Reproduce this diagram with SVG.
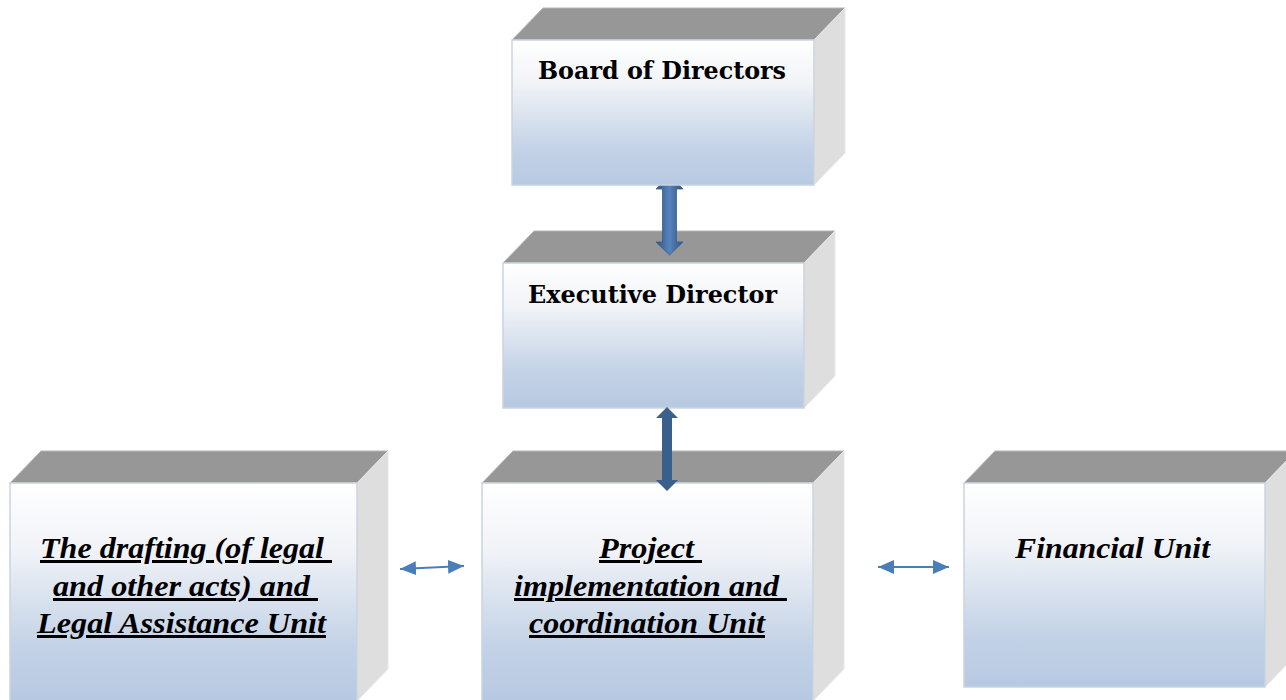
<svg xmlns="http://www.w3.org/2000/svg" width="1286" height="700" viewBox="0 0 1286 700">
  <defs>
    <linearGradient id="frontFill" x1="0" y1="0" x2="0" y2="1">
      <stop offset="0" stop-color="#ffffff"/>
      <stop offset="0.3" stop-color="#f1f3f7"/>
      <stop offset="0.75" stop-color="#c3d2e6"/>
      <stop offset="1" stop-color="#b7c9e2"/>
    </linearGradient>
    <linearGradient id="shaftFill" x1="0" y1="0" x2="1" y2="0">
      <stop offset="0" stop-color="#33557f"/>
      <stop offset="0.5" stop-color="#5583bd"/>
      <stop offset="1" stop-color="#33557f"/>
    </linearGradient>
    <marker id="thinHead" markerUnits="userSpaceOnUse" markerWidth="16" markerHeight="14" refX="16" refY="7" orient="auto-start-reverse">
      <path d="M0,0 L16,7 L0,14 z" fill="#4a7ebb"/>
    </marker>
    <style>
      .top { fill: #979797; stroke: #b5b5b5; stroke-width: 1; }
      .side { fill: #dedede; stroke: #e8e8e8; stroke-width: 1; }
      .front { fill: url(#frontFill); stroke: #c9d3e1; stroke-width: 1.5; }
      .head { font-family: "DejaVu Serif", "Liberation Serif", serif; font-weight: bold; font-size: 24px; fill: #000; }
      .unit { font-family: "Liberation Serif", "Times New Roman", serif; font-weight: bold; font-style: italic; font-size: 30px; fill: #000; white-space: pre; }
      .ul { text-decoration: underline; }
      .thin { stroke: #4a7ebb; stroke-width: 2; fill: none; }
    </style>
  </defs>

  <!-- Executive Director -->
  <g id="executive-director">
    <polygon class="top" points="503,263 534,231 835,231 804,263"/>
    <polygon class="side" points="804,263 835,231 835,376 804,408"/>
    <rect class="front" x="503" y="263" width="301" height="145"/>
    <text class="head" x="528" y="303" textLength="249" lengthAdjust="spacingAndGlyphs">Executive Director</text>
  </g>

  <!-- Drafting and Legal Assistance Unit -->
  <g id="legal-unit">
    <polygon class="top" points="10,483 41,451 388,451 357,483"/>
    <polygon class="side" points="357,483 388,451 388,669 357,701"/>
    <rect class="front" x="10" y="483" width="347" height="218"/>
    <text class="unit ul" x="40" y="558" textLength="292" lengthAdjust="spacingAndGlyphs">The drafting (of legal </text>
    <text class="unit ul" x="53" y="596" textLength="265" lengthAdjust="spacingAndGlyphs">and other acts) and </text>
    <text class="unit ul" x="37" y="633" textLength="289" lengthAdjust="spacingAndGlyphs">Legal Assistance Unit</text>
  </g>

  <!-- Project implementation and coordination Unit -->
  <g id="project-unit">
    <polygon class="top" points="482,483 513,451 844,451 813,483"/>
    <polygon class="side" points="813,483 844,451 844,669 813,701"/>
    <rect class="front" x="482" y="483" width="331" height="218"/>
    <text class="unit ul" x="599" y="558" textLength="103" lengthAdjust="spacingAndGlyphs">Project </text>
    <text class="unit ul" x="514" y="596" textLength="273" lengthAdjust="spacingAndGlyphs">implementation and </text>
    <text class="unit ul" x="529" y="633" textLength="236" lengthAdjust="spacingAndGlyphs">coordination Unit</text>
  </g>

  <!-- Financial Unit -->
  <g id="financial-unit">
    <polygon class="top" points="964,483 995,451 1296,451 1265,483"/>
    <polygon class="side" points="1265,483 1296,451 1296,655 1265,687"/>
    <rect class="front" x="964" y="483" width="301" height="204"/>
    <text class="unit" x="1015" y="558" textLength="195" lengthAdjust="spacingAndGlyphs">Financial Unit</text>
  </g>

  <!-- Connectors -->
  <g id="connectors">
    <!-- Board of Directors <-> Executive Director -->
    <polygon fill="url(#shaftFill)" stroke="#3a5d8a" stroke-width="0.8"
      points="669.5,175 683,189 676.5,189 676.5,242 683,242 669.5,255 656,242 662.5,242 662.5,189 656,189"/>
    <!-- Executive Director <-> Project Unit -->
    <polygon fill="#3b5f8d"
      points="667,407 678,418 672,418 672,480 678,480 667,491 656,480 662,480 662,418 656,418"/>
    <!-- Legal Unit <-> Project Unit -->
    <line class="thin" x1="400" y1="569" x2="464" y2="566" marker-start="url(#thinHead)" marker-end="url(#thinHead)"/>
    <!-- Project Unit <-> Financial Unit -->
    <line class="thin" x1="878" y1="567" x2="949" y2="567" marker-start="url(#thinHead)" marker-end="url(#thinHead)"/>
  </g>

  <!-- Board of Directors -->
  <g id="board-of-directors">
    <polygon class="top" points="512,40 543,8 845,8 814,40"/>
    <polygon class="side" points="814,40 845,8 845,153 814,185"/>
    <rect class="front" x="512" y="40" width="302" height="145"/>
    <text class="head" x="538" y="79" textLength="248" lengthAdjust="spacingAndGlyphs">Board of Directors</text>
  </g>
</svg>
